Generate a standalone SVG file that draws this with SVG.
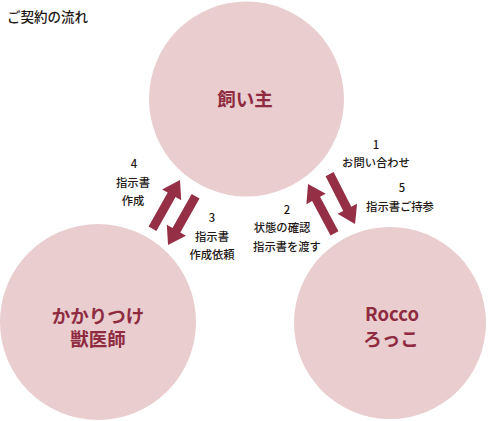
<svg xmlns="http://www.w3.org/2000/svg" width="490" height="421" viewBox="0 0 490 421">
<style>
.node{fill:#e9cdcf}
.nt{font-family:"Noto Sans CJK JP","Noto Sans",sans-serif;font-weight:700;font-size:18.5px;fill:#8f2b40;text-anchor:middle}
.lb{font-family:"Noto Sans CJK JP","Noto Sans",sans-serif;font-weight:500;font-size:11.3px;fill:#231815;text-anchor:middle}
.title{font-family:"Noto Sans CJK JP","Noto Sans",sans-serif;font-weight:500;font-size:13.5px;fill:#231815}
.arr{fill:#952f45}
</style>
<defs>
<path id="arrow" d="M0,-4.5 L39,-4.5 L39,-11 L56,0 L39,11 L39,4.5 L0,4.5 Z"/>
</defs>
<rect width="490" height="421" fill="#ffffff"/>
<text class="title" x="7" y="22">ご契約の流れ</text>
<g id="owner">
<circle class="node" cx="246.5" cy="99" r="97.5"/>
<text class="nt" x="245" y="106">飼い主</text>
</g>
<g id="vet">
<circle class="node" cx="98" cy="322" r="98"/>
<text class="nt" x="98" y="322.5">かかりつけ</text>
<text class="nt" x="98" y="346">獣医師</text>
</g>
<g id="rocco">
<circle class="node" cx="390" cy="323" r="96"/>
<text class="nt" x="392" y="321">Rocco</text>
<text class="nt" x="391" y="346">ろっこ</text>
</g>
<g id="connectors" class="arr">
<use href="#arrow" transform="translate(152.5,228.8) rotate(-60.6)"/>
<use href="#arrow" transform="translate(195.6,196.3) rotate(119.5)"/>
<use href="#arrow" transform="translate(334.5,233.3) rotate(-118.2)"/>
<use href="#arrow" transform="translate(329.6,174.1) rotate(63)"/>
</g>
<g id="labels">
<text class="lb" x="134" y="168">4</text>
<text class="lb" x="133" y="187">指示書</text>
<text class="lb" x="133" y="205">作成</text>
<text class="lb" x="212" y="222">3</text>
<text class="lb" x="212" y="241">指示書</text>
<text class="lb" x="212" y="259">作成依頼</text>
<text class="lb" x="287" y="214">2</text>
<text class="lb" x="282" y="232">状態の確認</text>
<text class="lb" x="287" y="251">指示書を渡す</text>
<text class="lb" x="376" y="149">1</text>
<text class="lb" x="376" y="167">お問い合わせ</text>
<text class="lb" x="402" y="192">5</text>
<text class="lb" x="400" y="211">指示書ご持参</text>
</g>
</svg>
